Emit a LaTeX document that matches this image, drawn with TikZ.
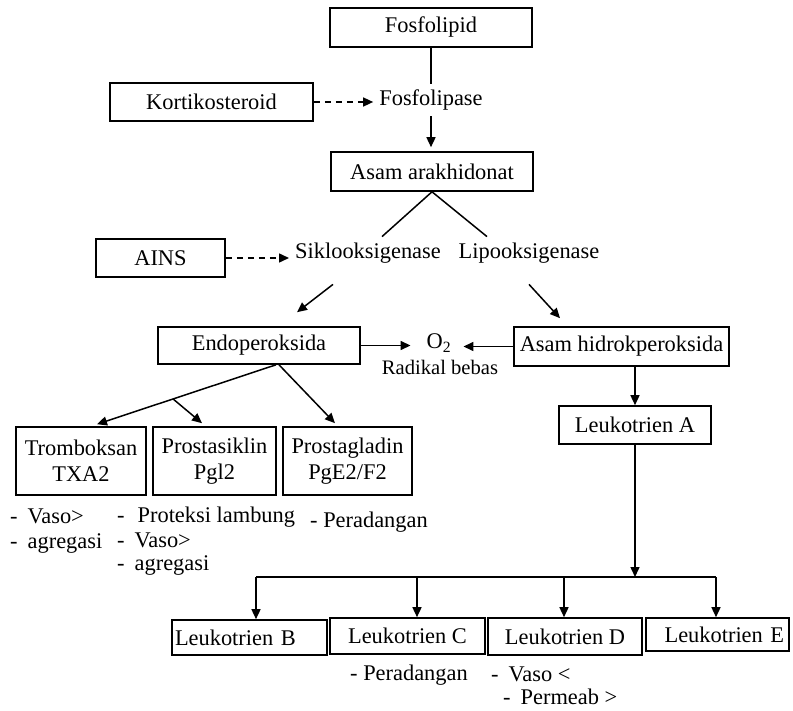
\documentclass[tikz,border=0pt]{standalone}
\usepackage{fontspec}
\setmainfont{Liberation Serif}
\usetikzlibrary{arrows.meta}
\usetikzlibrary{calc}
\tikzset{
  box/.style={draw, line width=1.6pt, inner sep=0pt, align=center},
  word/.style={inner sep=6pt},
  note/.style={inner sep=0pt, anchor=base west},
  link/.style={line width=1.5pt},
  arr/.style={link, -{Triangle[length=10pt,width=9pt]}},
  dasharr/.style={arr, dash pattern=on 6pt off 5pt},
}

\begin{document}
\begin{tikzpicture}[x=1pt, y=-1pt, font=\fontsize{22.4}{26}\selectfont]
\useasboundingbox (0,0) rectangle (793,711);
% top part
\node[box, minimum width=202pt, minimum height=39pt] (fosfolipid) at (431,27.5) {Fosfolipid};
\node[word] (fosfolipase) at (431,100) {Fosfolipase};
\node[box, minimum width=203pt, minimum height=38pt] (korti) at (211.5,102) {Kortikosteroid};
\node[box, minimum width=202pt, minimum height=39pt] (arakh) at (432,171.5) {Asam arakhidonat};
\node[box, minimum width=129pt, minimum height=38pt] (ains) at (160.5,258) {AINS};
\node[word] (siklo) at (368,253) {Siklooksigenase};
\node[word] (lipo) at (529,253) {Lipooksigenase};
% middle part
\node[box, minimum width=202pt, minimum height=37pt] (endo) at (259,345.5) {Endoperoksida};
\node[inner sep=4pt] (o2) at (439,343) {O\textsubscript{2}};
\node[anchor=base, inner sep=0pt, font=\fontsize{20.6}{24}\selectfont] (radikal) at (440,375) {Radikal bebas};
\node[box, minimum width=215pt, minimum height=39pt] (hidrok) at (621.5,346.5) {Asam hidrokperoksida};
\node[box, minimum width=152pt, minimum height=38pt] (leuA) at (635,425) {Leukotrien A};
%     prostanoid boxes
\node[box, minimum width=130pt, minimum height=68pt] (trombo) at (81,461) {Tromboksan\\TXA2};
\node[box, minimum width=123pt, minimum height=68pt] (prosta) at (214.5,461) {Prostasiklin\\Pgl2};
\node[box, minimum width=129pt, minimum height=68pt] (prostag) at (347.5,461) {Prostagladin\\PgE2/F2};
%     their effects
\node[note] (tr1) at (10,523) {-\hspace{10pt}Vaso>};
\node[note] (tr2) at (10,548) {-\hspace{10pt}agregasi};
\node[note] (pr1) at (117,522) {-\hspace{13pt}Proteksi lambung};
\node[note] (pr2) at (117,547) {-\hspace{10pt}Vaso>};
\node[note] (pr3) at (117,570) {-\hspace{10pt}agregasi};
\node[note] (pg1) at (310,527) {- Peradangan};
% bottom part
\node[box, minimum width=155pt, minimum height=35pt, text width=149pt, inner xsep=3pt, align=left] (leuB) at (249.5,637.5) {Leukotrien B};
\node[box, minimum width=155pt, minimum height=36pt] (leuC) at (407.5,636) {Leukotrien C};
\node[box, minimum width=154pt, minimum height=37pt] (leuD) at (565,636.5) {Leukotrien D};
\node[box, minimum width=143pt, minimum height=33pt, text width=133pt, inner xsep=5pt, align=right] (leuE) at (717.5,634.5) {Leukotrien E};
\node[note] (lc1) at (350,680) {- Peradangan};
\node[note] (ld1) at (491,681) {-\hspace{10pt}Vaso <};
\node[note] (ld2) at (503,704) {-\hspace{10pt}Permeab >};
\coordinate (busL) at (256,577);
\coordinate (busR) at (716,577);
% connectors
\draw[link] (fosfolipid) -- (fosfolipase);
\draw[arr, shorten >=4pt] (fosfolipase) -- (fosfolipase |- arakh.north);
\draw[dasharr] (korti) -- (korti -| fosfolipase.west);
\draw[link] (arakh.south) -- ([xshift=14pt]siklo.north);
\draw[link] (arakh.south) -- ([xshift=-42pt]lipo.north);
\draw[dasharr] (ains) -- (ains -| siklo.west);
\draw[arr] ([xshift=-35pt,yshift=-15pt]siklo.south) -- ([xshift=38pt,yshift=14pt]endo.north);
\draw[arr] ([yshift=-15pt]lipo.south) -- ([xshift=-61.5pt,yshift=8pt]hidrok.north);
\draw[arr, shorten >=12pt] (endo) -- (endo -| o2.west);
\draw[arr, shorten >=8pt] (hidrok) -- (hidrok -| o2.east);
\draw[arr] ([xshift=17pt]endo.south) -- ([xshift=16pt,yshift=2pt]trombo.north) coordinate[pos=0.575] (fork);
\draw[arr] (fork) -- ([xshift=-12.5pt,yshift=3pt]prosta.north);
\draw[arr] ([xshift=20pt]endo.south) -- ([xshift=-12.5pt,yshift=3pt]prostag.north);
\draw[arr] (leuA.north |- hidrok.south) -- (leuA.north);
\draw[arr] (leuA) -- (leuA |- busL);
\draw[link] (busL) -- (busR);
\foreach \n/\dx in {leuB/6.5, leuC/9.5, leuD/-1, leuE/-1.5}
  \draw[arr] ([xshift=\dx pt]\n.north |- busL) -- ([xshift=\dx pt]\n.north);
\end{tikzpicture}
\end{document}
